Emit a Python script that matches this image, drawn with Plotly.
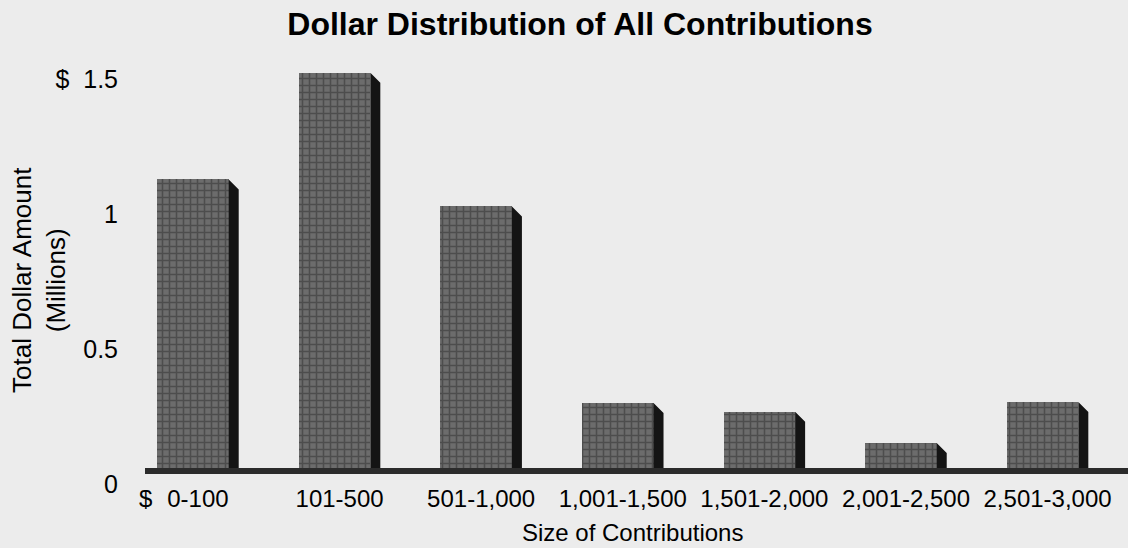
import plotly.graph_objects as go

# Contribution size brackets (dollars) and total amount given in each (millions of dollars)
categories = ["0-100", "101-500", "501-1,000", "1,001-1,500",
              "1,501-2,000", "2,001-2,500", "2,501-3,000"]
amounts = [1.08, 1.475, 0.98, 0.252, 0.219, 0.104, 0.256]

y_tick_values = [0, 0.5, 1, 1.5]
y_tick_labels = ["0", "0.5", "1", "$\u00a0\u00a01.5"]

chart_title = "Dollar Distribution of All Contributions"
x_title = "Size of Contributions"
y_title = "Total Dollar Amount<br>(Millions)"

# ---- page geometry (pixels) ----
W, H = 1128, 548
ZERO_PX = 471            # vertical pixel of the floor line
PX_PER_UNIT_Y = 270      # pixels per $1 million
M_L, M_R, M_T = 145, 0, 40
M_B = H - (ZERO_PX + 8)
plot_w = W - M_L - M_R
plot_h = H - M_T - M_B
Y_MIN = -8 / PX_PER_UNIT_Y
Y_MAX = Y_MIN + plot_h / PX_PER_UNIT_Y
X_RANGE = [-0.374, 6.568]
px_per_x = plot_w / (X_RANGE[1] - X_RANGE[0])

# 3-D look: right-hand side face of each bar
DEPTH_PX = 10
dx = DEPTH_PX / px_per_x
dy = DEPTH_PX / PX_PER_UNIT_Y
BAR_W = 0.505
BAR_OFFSET = -(BAR_W + dx) / 2

FONT = "Liberation Sans, Arial, Helvetica, sans-serif"
INK = "#000000"
BG = "#ececec"

x_idx = list(range(len(categories)))

fig = go.Figure()

# front faces
fig.add_trace(go.Bar(
    x=x_idx, y=amounts, width=BAR_W, offset=BAR_OFFSET,
    marker=dict(color="#5e5e5e", line=dict(width=0),
                pattern=dict(shape="+", fgcolor="#2e2e2e", bgcolor="#6c6c6c",
                             size=7, solidity=0.4)),
    showlegend=False, hoverinfo="skip",
))

# side faces, built from each bar's value
sx, sy = [], []
for i, v in zip(x_idx, amounts):
    xr = i + BAR_OFFSET + BAR_W
    sx += [xr, xr + dx, xr + dx, xr, xr, None]
    sy += [v, v - dy, 0, 0, v, None]
fig.add_trace(go.Scatter(
    x=sx, y=sy, mode="lines", fill="toself", fillcolor="#141414",
    line=dict(width=0, color="#141414"), showlegend=False, hoverinfo="skip",
))

# floor line
fig.add_shape(type="line", xref="paper", x0=0, x1=1, yref="y", y0=0, y1=0,
              line=dict(color="#2b2b2b", width=6), layer="above")


def px_to_paper_x(px):
    return (px - M_L) / plot_w


def px_to_paper_y(py):
    return (H - M_B - py) / plot_h


annotations = [
    dict(text=x_title, xref="paper", yref="paper",
         x=px_to_paper_x(632), y=px_to_paper_y(532),
         xanchor="center", yanchor="middle", showarrow=False,
         font=dict(family=FONT, size=24, color=INK)),
    dict(text=y_title, xref="paper", yref="paper",
         x=px_to_paper_x(39), y=px_to_paper_y(280),
         xanchor="center", yanchor="middle", showarrow=False, textangle=-90,
         font=dict(family=FONT, size=26, color=INK)),
    dict(text="$", xref="x", yref="paper",
         x=0, xshift=-52, y=px_to_paper_y(498),
         xanchor="center", yanchor="middle", showarrow=False,
         font=dict(family=FONT, size=24, color=INK)),
]

fig.update_layout(
    width=W, height=H,
    margin=dict(l=M_L, r=M_R, t=M_T, b=M_B, pad=0),
    paper_bgcolor=BG, plot_bgcolor=BG,
    bargap=0,
    title=dict(text="<b>" + chart_title + "</b>", xref="container", yref="container",
               x=580 / W, y=1 - 24 / H, xanchor="center", yanchor="middle",
               font=dict(family=FONT, size=32, color=INK)),
    xaxis=dict(range=X_RANGE, tickmode="array", tickvals=x_idx, ticktext=categories,
               showgrid=False, zeroline=False, showline=False, ticks="",
               ticklabelstandoff=3,
               tickfont=dict(family=FONT, size=24, color=INK)),
    yaxis=dict(range=[Y_MIN, Y_MAX], tickmode="array", tickvals=y_tick_values,
               ticktext=y_tick_labels, showgrid=False, zeroline=False, showline=False,
               ticks="", ticklabelstandoff=26, ticklabelshift=13,
               tickfont=dict(family=FONT, size=25, color=INK)),
    annotations=annotations,
    showlegend=False,
)

fig.write_html("out.html")
